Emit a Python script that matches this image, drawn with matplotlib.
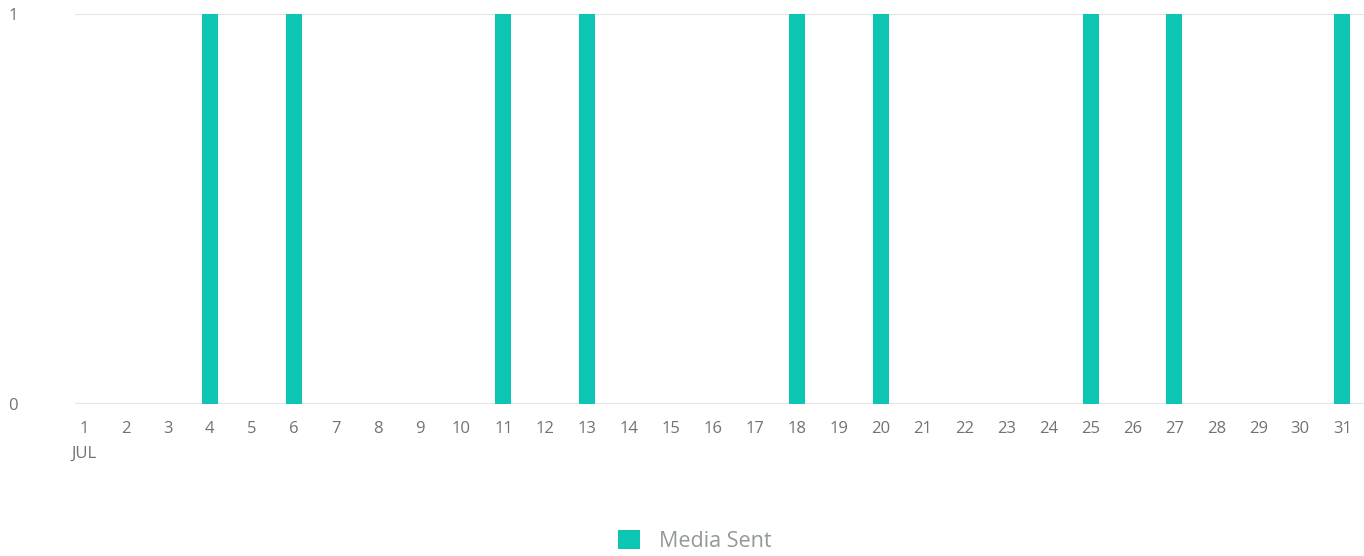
import matplotlib
matplotlib.use("Agg")
import matplotlib.pyplot as plt

days = list(range(1, 32))
sent_days = [4, 6, 11, 13, 18, 20, 25, 27, 31]
media_sent = [1 if d in sent_days else 0 for d in days]
x_labels = ["1\nJUL"] + [str(d) for d in days[1:]]
series_name = "Media Sent"

BAR = "#0cc5b3"
GRID = "#e3e6e6"
TXT = "#6f7373"

plt.rcParams["font.family"] = ["Open Sans", "DejaVu Sans"]

fig = plt.figure(figsize=(13.64, 5.56), dpi=100)
ax = fig.add_axes([75 / 1364, 1 - 404 / 556, 1 - 75 / 1364, 390 / 556])

ax.bar(days, media_sent, width=0.38, color=BAR, zorder=3, label=series_name)

ax.set_xlim(0.785, 31.52)
ax.set_ylim(0, 1)
for y in (0, 1):
    ax.axhline(y, color=GRID, lw=1.5, zorder=1)

for s in ax.spines.values():
    s.set_visible(False)

ax.set_xticks(days)
ax.set_xticklabels(x_labels, fontsize=12, color=TXT, linespacing=1.75)
ax.set_yticks([0, 1])
ax.set_yticklabels(["0", "1"], fontsize=12, color=TXT)
ax.tick_params(axis="x", length=0, pad=12)
ax.tick_params(axis="y", length=0, pad=41)

leg = fig.legend(loc="center", bbox_to_anchor=(695 / 1364, 1 - 541 / 556), frameon=False,
                 fontsize=15.5, handlelength=1, handleheight=1, handletextpad=0.9)
for t in leg.get_texts():
    t.set_color("#939898")

fig.savefig("out.png", dpi=100)
